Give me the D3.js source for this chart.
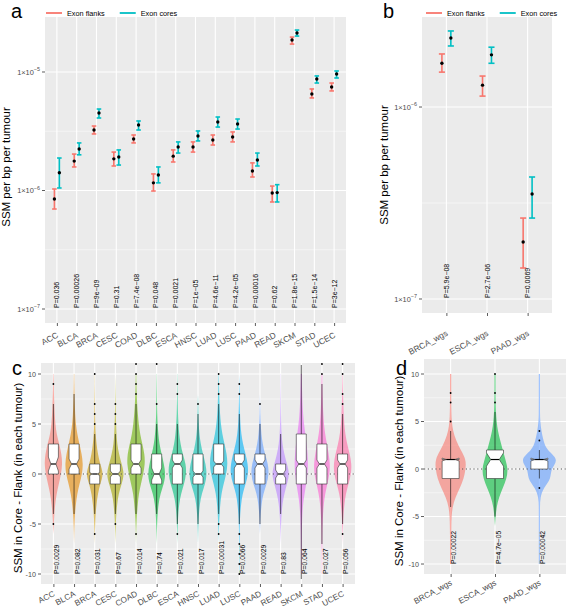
<!DOCTYPE html>
<html><head><meta charset="utf-8">
<script src="https://cdn.jsdelivr.net/npm/d3@7"></script>
<style>
body{margin:0;background:#fff}
svg{display:block}
text{font-family:"Liberation Sans",Arial,Helvetica,sans-serif}
</style>
</head><body>
<svg id="chart" width="567" height="610"></svg>
<script>
// ---------------- DATA ----------------
const catsA = ["ACC","BLCA","BRCA","CESC","COAD","DLBC","ESCA","HNSC","LUAD","LUSC","PAAD","READ","SKCM","STAD","UCEC"];
const flankMidA = [8.48e-7,1.77e-6,3.24e-6,1.85e-6,2.72e-6,1.16e-6,1.95e-6,2.33e-6,2.67e-6,2.83e-6,1.46e-6,9.53e-7,1.86e-5,6.52e-6,7.47e-6];
const flankLoA  = [6.98e-7,1.58e-6,3.00e-6,1.61e-6,2.52e-6,9.9e-7,1.74e-6,2.11e-6,2.42e-6,2.57e-6,1.30e-6,8.0e-7,1.72e-5,6.04e-6,6.92e-6];
const flankHiA  = [1.03e-6,2.03e-6,3.50e-6,2.11e-6,2.94e-6,1.38e-6,2.20e-6,2.57e-6,2.94e-6,3.12e-6,1.71e-6,1.09e-6,1.97e-5,7.19e-6,8.07e-6];
const coreMidA  = [1.41e-6,2.24e-6,4.51e-6,1.92e-6,3.57e-6,1.35e-6,2.33e-6,2.88e-6,3.79e-6,3.64e-6,1.81e-6,9.6e-7,2.13e-5,8.73e-6,9.62e-6];
const coreLoA   = [1.05e-6,2.00e-6,4.09e-6,1.64e-6,3.24e-6,1.16e-6,2.07e-6,2.62e-6,3.43e-6,3.30e-6,1.61e-6,8.0e-7,2.01e-5,8.07e-6,8.90e-6];
const coreHiA   = [1.88e-6,2.52e-6,4.87e-6,2.20e-6,3.86e-6,1.58e-6,2.57e-6,3.18e-6,4.17e-6,4.01e-6,2.07e-6,1.12e-6,2.26e-5,9.26e-6,1.02e-5];
const pA = ["P=0.036","P=0.00026","P=9e−09","P=0.31","P=7.4e−08","P=0.048","P=0.0021","P=1e−05","P=4.6e−11","P=4.2e−05","P=0.00016","P=0.62","P=1.8e−15","P=1.5e−14","P=3e−12"];

const catsB = ["BRCA_wgs","ESCA_wgs","PAAD_wgs"];
const flankMidB = [1.69e-6,1.30e-6,1.98e-7];
const flankLoB  = [1.52e-6,1.14e-6,1.45e-7];
const flankHiB  = [1.89e-6,1.45e-6,2.64e-7];
const coreMidB  = [2.29e-6,1.87e-6,3.52e-7];
const coreLoB   = [2.08e-6,1.69e-6,2.64e-7];
const coreHiB   = [2.49e-6,2.05e-6,4.32e-7];
const pB = ["P=5.9e−08","P=2.7e−06","P=0.0069"];

const logTicks = [1e-7,1e-6,1e-5];
const seriesNames = ["Exon flanks","Exon cores"];

// panel c: violin profiles on grid -10..10 (relative half-width)
const gridC = d3.range(-10, 11);
const violinC = [
 [0,0,0,0,0,0.05,0.1,0.2,0.35,0.6,0.85,1,0.9,0.65,0.35,0.22,0.14,0.1,0.06,0.04,0.02],
 [0,0,0,0,0.02,0.05,0.1,0.2,0.35,0.6,0.9,1,0.85,0.6,0.35,0.2,0.12,0.08,0.05,0.03,0.02],
 [0,0,0,0,0.02,0.05,0.1,0.2,0.35,0.6,1,0.6,0.35,0.2,0.1,0.06,0.04,0.03,0.02,0.01,0.01],
 [0,0,0,0,0.02,0.05,0.1,0.2,0.35,0.7,1,0.7,0.4,0.2,0.12,0.08,0.05,0.03,0.02,0.01,0],
 [0,0,0,0,0.02,0.05,0.1,0.2,0.3,0.55,0.8,1,0.95,0.7,0.45,0.3,0.2,0.12,0.08,0.05,0.03],
 [0,0,0,0,0.02,0.05,0.1,0.2,0.4,0.8,1,0.8,0.55,0.3,0.18,0.1,0.06,0.04,0.03,0.02,0.01],
 [0,0,0,0,0.02,0.05,0.1,0.2,0.4,0.75,1,0.95,0.6,0.35,0.2,0.12,0.07,0.05,0.03,0.02,0.01],
 [0,0,0,0,0.02,0.05,0.1,0.2,0.4,0.8,1,0.85,0.55,0.3,0.15,0.08,0.05,0.03,0,0,0],
 [0,0,0,0,0.02,0.05,0.1,0.18,0.3,0.55,0.85,1,0.9,0.65,0.4,0.25,0.15,0.1,0.06,0.04,0.02],
 [0.02,0.02,0.03,0.03,0.04,0.05,0.1,0.2,0.35,0.7,1,0.95,0.7,0.4,0.22,0.12,0.08,0.05,0.03,0.02,0],
 [0,0,0,0,0,0.03,0.08,0.18,0.35,0.75,1,0.9,0.55,0.3,0.15,0.08,0.04,0.02,0,0,0],
 [0,0,0,0,0.02,0.05,0.1,0.2,0.4,0.7,1,0.7,0.4,0.2,0.1,0.06,0.04,0.03,0.02,0.01,0.01],
 [0.03,0.03,0.04,0.05,0.06,0.08,0.12,0.2,0.35,0.55,0.7,0.75,0.7,0.6,0.45,0.3,0.2,0.14,0.1,0.07,0.05],
 [0.02,0.02,0.03,0.04,0.05,0.07,0.12,0.2,0.35,0.6,0.85,0.9,0.75,0.55,0.35,0.22,0.15,0.1,0.07,0.05,0.04],
 [0,0,0,0,0.02,0.05,0.1,0.2,0.35,0.65,0.95,1,0.8,0.5,0.3,0.18,0.12,0.08,0.05,0.03,0.02]
];
// box stats: [whiskerLo, q1, median, q3, whiskerHi]
const boxC = [
 [-4,0,1,3,7],[-4,0,1,3,8],[-4,-1,0,1,4],[-4,-1,0,1,4],[-4,0,1,3,7],
 [-4,-1,0,2,5],[-5,-1,1,2,5],[-5,-1,0,2,6],[-4,0,1,3,7],[-5,-1,1,2,6],
 [-5,-1,1,2,5],[-4,-1,0,1,4],[-10.5,-1,1,4,10.9],[-7,-1,1,3,9],[-5,-1,1,2,6]
];
const notchC = [[0.3,1.7],[0.5,1.5],[-0.15,0.15],[-0.3,0.3],[0.6,1.4],[-0.6,0.6],[0.6,1.4],[-0.3,0.3],[0.7,1.3],[0.6,1.4],[0.6,1.4],[-0.4,0.4],[0.6,1.4],[0.6,1.4],[0.6,1.4]];
const outlierC = [[9,-5],[],[5,6,7,10,-6],[5,6,7,-5],[8,9,10,11,-6],[7,11],[8,9,-6],[7],[8,9,10,-5,-6],[8,9,-6,-7,-8,-9,-10],[7],[],[],[10,11],[7,8,10,11,-6]];
const pC = ["P=0.0029","P=0.082","P=0.031","P=0.67","P=0.014","P=0.74","P=0.021","P=0.017","P=0.00031","P=0.0066","P=0.0029","P=0.83","P=0.064","P=0.027","P=0.056"];
const colorsC = ["#F8766D","#E58700","#C99800","#A3A500","#6BB100","#00BA38","#00BF7D","#00C0AF","#00BCD8","#00B0F6","#619CFF","#B983FF","#E76BF3","#FD61D1","#FF67A4"];

const catsD = ["BRCA_wgs","ESCA_wgs","PAAD_wgs"];
const violinD = [
 [0.04,0.04,0.04,0.04,0.05,0.06,0.12,0.3,0.6,0.85,0.97,1,0.65,0.35,0.15,0.07,0.05,0.04,0.04,0.04,0.04],
 [0,0,0,0,0,0.05,0.12,0.3,0.6,0.9,1,0.8,0.6,0.4,0.22,0.12,0.07,0.05,0.04,0.04,0.04],
 [0.03,0.03,0.03,0.03,0.03,0.03,0.03,0.04,0.2,0.6,0.55,1,0.35,0.2,0.1,0.04,0.03,0.03,0.03,0.03,0.03]
];
const violinMaxD = [15.5,13,20];
const boxD = [[-4,-1,1,1,4],[-5,-1,1,2,6],[-1,0,1,1,2]];
const notchD = [[0.85,1.15],[0.3,1.7],[0.85,1.15]];
const outlierD = [[5,7,8],[7,8,10],[3,4,-2]];
const pD = ["P=0.00022","P=4.7e−05","P=0.00042"];
const colorsD = ["#F8766D","#00BA38","#619CFF"];
const linTicks = [-10,-5,0,5,10];
const linMinor = [-7.5,-2.5,2.5,7.5];

// ---------------- LAYOUT ----------------
const svg = d3.select("#chart");
const BG = "#EBEBEB", AX = "#4D4D4D";
const RED = "#F8766D", TEAL = "#00BFC4";
const PA = {l:45, r:346, t:17, b:323};
const PB = {l:422, r:552, t:17, b:313};
const PC = {l:41, r:355, t:363, b:584};
const PD = {l:424, r:566, t:359, b:574};
const defs = svg.append("defs");

function bg(P){
  svg.append("rect").attr("x",P.l).attr("y",P.t).attr("width",P.r-P.l).attr("height",P.b-P.t).attr("fill",BG);
}
function hline(P,y,w){
  svg.append("line").attr("x1",P.l).attr("x2",P.r).attr("y1",y).attr("y2",y).attr("stroke","#fff").attr("stroke-width",w);
}
function vline(P,x,w){
  svg.append("line").attr("x1",x).attr("x2",x).attr("y1",P.t).attr("y2",P.b).attr("stroke","#fff").attr("stroke-width",w);
}
function xAxis(P,x,angle,fs,dy){
  const g = svg.append("g").attr("transform",`translate(0,${P.b})`)
    .call(d3.axisBottom(x).tickSize(3).tickSizeOuter(0));
  g.select(".domain").remove();
  g.selectAll(".tick line").attr("stroke","#333").attr("stroke-width",0.8);
  g.selectAll(".tick text").attr("fill",AX).attr("font-size",fs)
    .attr("text-anchor","end").attr("dy",null).attr("x",0).attr("y",0)
    .attr("transform",`translate(1.5,${dy}) rotate(${-angle})`);
}
function yTicks(P,y,vals){
  vals.forEach(v=>{
    svg.append("line").attr("x1",P.l-3).attr("x2",P.l).attr("y1",y(v)).attr("y2",y(v)).attr("stroke","#333").attr("stroke-width",0.8);
  });
}
function yTitle(x,cy,txt,fs){
  svg.append("text").attr("transform",`translate(${x},${cy}) rotate(-90)`).attr("text-anchor","middle")
    .attr("font-size",fs).attr("fill","#000").text(txt);
}
function letter(x,y,t){
  svg.append("text").attr("x",x).attr("y",y).attr("font-size",20).attr("fill","#000").text(t);
}
function legend(x0,y){
  const items=[[seriesNames[0],RED],[seriesNames[1],TEAL]];
  let x=x0;
  items.forEach(([t,c])=>{
    svg.append("line").attr("x1",x).attr("x2",x+16).attr("y1",y).attr("y2",y).attr("stroke",c).attr("stroke-width",1.8);
    const tx = svg.append("text").attr("x",x+21).attr("y",y+2.6).attr("font-size",7.3).attr("fill","#000").text(t);
    x += 21 + tx.node().getComputedTextLength() + 15;
  });
}
function logLabels(P,y,vals){
  vals.forEach(v=>{
    const e = Math.round(Math.log10(v));
    const t = svg.append("text").attr("x",P.l-5).attr("y",y(v)+2.6).attr("text-anchor","end").attr("font-size",7.4).attr("fill",AX);
    t.append("tspan").text("1\u00d710");
    t.append("tspan").attr("dy",-3.2).attr("font-size",5.4).text("\u2212"+Math.abs(e));
  });
}
function linLabels(P,y,vals){
  vals.forEach(v=>{
    svg.append("text").attr("x",P.l-5).attr("y",y(v)+2.6).attr("text-anchor","end").attr("font-size",7.2).attr("fill",AX)
      .text(v<0? "-"+Math.abs(v) : String(v));
  });
}

// ---------------- PANEL A & B ----------------
function errPanel(P,cats,fm,fl,fh,cm,cl,ch,pv,logTop,logBot,dodge,cap){
  bg(P);
  const x = d3.scalePoint().domain(cats).range([P.l,P.r]).padding(0.6);
  const y = d3.scaleLog().domain([Math.pow(10,logBot),Math.pow(10,logTop)]).range([P.b,P.t]);
  const step = x.step();
  [-7.5,-6.5,-5.5,-4.5].forEach(e=>{const yy=y(Math.pow(10,e)); if(yy>P.t && yy<P.b) hline(P,yy,0.5);});
  const inT = logTicks.filter(v=>y(v)>=P.t && y(v)<=P.b);
  inT.forEach(v=>hline(P,y(v),1.1));
  cats.forEach(c=>vline(P,x(c),1.1));
  const ser = [[fm,fl,fh,RED,-1],[cm,cl,ch,TEAL,1]];
  ser.forEach(([m,lo,hi,col,s])=>{
    cats.forEach((c,i)=>{
      const xx = x(c)+s*dodge*step, hw = cap*step;
      const g = svg.append("g").attr("stroke",col).attr("stroke-width",1.6);
      g.append("line").attr("x1",xx).attr("x2",xx).attr("y1",y(lo[i])).attr("y2",y(hi[i]));
      g.append("line").attr("x1",xx-hw).attr("x2",xx+hw).attr("y1",y(lo[i])).attr("y2",y(lo[i]));
      g.append("line").attr("x1",xx-hw).attr("x2",xx+hw).attr("y1",y(hi[i])).attr("y2",y(hi[i]));
    });
  });
  ser.forEach(([m,lo,hi,col,s])=>{
    cats.forEach((c,i)=>{
      svg.append("circle").attr("cx",x(c)+s*dodge*step).attr("cy",y(m[i])).attr("r",1.7).attr("fill","#000");
    });
  });
  cats.forEach((c,i)=>{
    svg.append("text").attr("transform",`translate(${x(c)+2.6},${y(1e-7)-1}) rotate(-90)`)
      .attr("font-size",7).attr("fill","#000").text(pv[i]);
  });
  logLabels(P,y,inT);
  yTicks(P,y,inT);
  return x;
}
const xA = errPanel(PA,catsA,flankMidA,flankLoA,flankHiA,coreMidA,coreLoA,coreHiA,pA,-4.536,-7.118,0.125,0.115);
xAxis(PA,xA,28,8.4,14);
const xB = errPanel(PB,catsB,flankMidB,flankLoB,flankHiB,coreMidB,coreLoB,coreHiB,pB,-5.531,-7.073,0.11,0.075);
xAxis(PB,xB,28,8.4,22);

// ---------------- PANEL C & D ----------------
function violinPanel(P,cats,prof,maxHW,box,notch,outl,pv,colors,yTop,yBot,boxHW,id){
  bg(P);
  const x = d3.scalePoint().domain(cats).range([P.l,P.r]).padding(0.6);
  const y = d3.scaleLinear().domain([yBot,yTop]).range([P.b,P.t]);
  linMinor.forEach(v=>hline(P,y(v),0.5));
  linTicks.forEach(v=>hline(P,y(v),1.1));
  cats.forEach(c=>vline(P,x(c),1.1));
  defs.append("clipPath").attr("id",id).append("rect").attr("x",P.l).attr("y",P.t).attr("width",P.r-P.l).attr("height",P.b-P.t);
  const gv = svg.append("g").attr("clip-path",`url(#${id})`);
  cats.forEach((c,i)=>{
    const mh = Array.isArray(maxHW)? maxHW[i] : maxHW;
    const pts = gridC.map((g,k)=>({v:g, w:prof[i][k]}));
    const first = pts.findIndex(p=>p.w>0), last = pts.length-1-[...pts].reverse().findIndex(p=>p.w>0);
    const sub = pts.slice(Math.max(0,first-1), Math.min(pts.length,last+2));
    const area = d3.area().curve(d3.curveBasis)
      .y(d=>y(d.v)).x0(d=>x(c)-d.w*mh).x1(d=>x(c)+d.w*mh);
    gv.append("path").attr("d",area(sub)).attr("fill",colors[i]).attr("fill-opacity",0.6).attr("stroke","none");
  });
  svg.append("line").attr("x1",P.l).attr("x2",P.r).attr("y1",y(0)).attr("y2",y(0))
    .attr("stroke","#555").attr("stroke-width",1.2).attr("stroke-dasharray","1.2,2.6");
  const gb = svg.append("g").attr("clip-path",`url(#${id})`);
  cats.forEach((c,i)=>{
    const [lo,q1,md,q3,hi] = box[i], [nl,nh] = notch[i];
    const cx = x(c), hw = boxHW, nw = hw/2;
    gb.append("line").attr("x1",cx).attr("x2",cx).attr("y1",y(q3)).attr("y2",y(hi)).attr("stroke","#000").attr("stroke-width",0.6);
    gb.append("line").attr("x1",cx).attr("x2",cx).attr("y1",y(q1)).attr("y2",y(lo)).attr("stroke","#000").attr("stroke-width",0.6);
    const path = d3.path();
    path.moveTo(cx-hw,y(q1)); path.lineTo(cx-hw,y(nl)); path.lineTo(cx-nw,y(md)); path.lineTo(cx-hw,y(nh));
    path.lineTo(cx-hw,y(q3)); path.lineTo(cx+hw,y(q3)); path.lineTo(cx+hw,y(nh)); path.lineTo(cx+nw,y(md));
    path.lineTo(cx+hw,y(nl)); path.lineTo(cx+hw,y(q1)); path.closePath();
    gb.append("path").attr("d",path.toString()).attr("fill","#fff").attr("stroke","#333").attr("stroke-width",0.6);
    gb.append("line").attr("x1",cx-nw).attr("x2",cx+nw).attr("y1",y(md)).attr("y2",y(md)).attr("stroke","#000").attr("stroke-width",1.2);
    outl[i].forEach(v=>gb.append("circle").attr("cx",cx).attr("cy",y(v)).attr("r",0.9).attr("fill","#000"));
  });
  cats.forEach((c,i)=>{
    svg.append("text").attr("transform",`translate(${x(c)+5.6},${y(-10)}) rotate(-90)`)
      .attr("font-size",6.8).attr("fill","#000").text(pv[i]);
  });
  linLabels(P,y,linTicks);
  yTicks(P,y,linTicks);
  return x;
}
const xC = violinPanel(PC,catsA,violinC,9,boxC,notchC,outlierC,pC,colorsC,11.1,-11,5,"clipC");
xAxis(PC,xC,28,8.2,11.5);
const xD = violinPanel(PD,catsD,violinD,violinMaxD,boxD,notchD,outlierD,pD,colorsD,11.58,-11.05,8.5,"clipD");
xAxis(PD,xD,28,8.2,10.5);

// ---------------- TITLES / LEGENDS ----------------
yTitle(10,167,"SSM per bp per tumour",11.5);
yTitle(388,165,"SSM per bp per tumour",11.5);
yTitle(22,478,"SSM in Core - Flank (in each tumour)",11.5);
yTitle(403,471,"SSM in Core - Flank (in each tumour)",11.5);
letter(11,18,"a");
letter(383,18,"b");
letter(12,375,"c");
letter(396,375,"d");
legend(46,13);
legend(426,13);
</script>
</body></html>
